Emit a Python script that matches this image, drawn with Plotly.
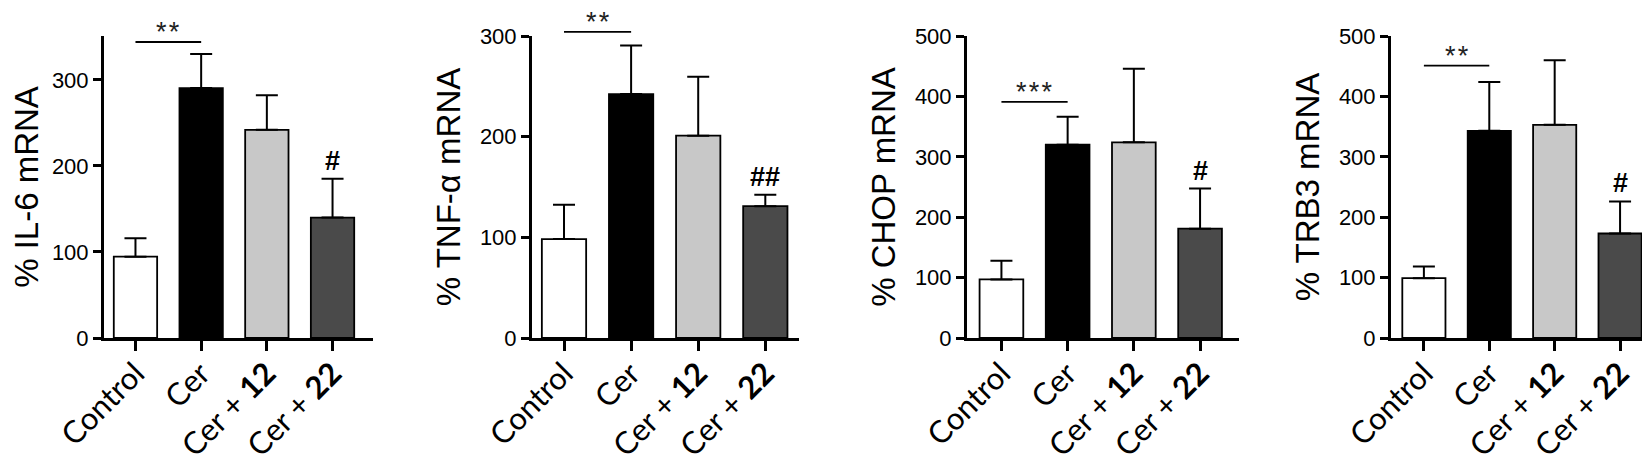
import plotly.graph_objects as go

categories = ["Control", "Cer", "Cer + <b>12</b>", "Cer + <b>22</b>"]
bar_colors = ["#ffffff", "#000000", "#c8c8c8", "#4a4a4a"]

titles = ["% IL-6 mRNA", "% TNF-α mRNA", "% CHOP mRNA", "% TRB3 mRNA"]

il6_mean = [94.5, 290.5, 242, 140]
il6_sem = [21.5, 39.5, 40, 45]
tnf_mean = [98.3, 242.3, 201, 131]
tnf_sem = [34, 48.3, 58.5, 11.3]
chop_mean = [97, 320, 324, 181]
chop_sem = [31, 46.5, 121.7, 66.5]
trb3_mean = [99, 343, 353, 173]
trb3_sem = [19.4, 81, 107, 53]

means = [il6_mean, tnf_mean, chop_mean, trb3_mean]
sems = [il6_sem, tnf_sem, chop_sem, trb3_sem]

sig_y = [344, 304, 391, 451]
sig_text = ["*\u200a*", "*\u200a*", "*\u200a*\u200a*", "*\u200a*"]
hash_text = ["#", "##", "#", "#"]

y_max = [351, 300, 500, 500]
y_dtick = [100, 100, 100, 100]

W, H = 1650, 469
# pixel layout of each panel
x_dom_px = [(96, 365), (524, 791), (959, 1231), (1383, 1650)]
x_ranges = [(-0.479, 3.616), (-0.477, 3.502), (-0.52, 3.588), (-0.503, 3.58)]
y_dom = ((H - 330) / H, (H - 28) / H)


def to_paper(i, v):
    # map a data value of panel i onto paper coordinates through its y scale
    return y_dom[0] + v / y_max[i] * (y_dom[1] - y_dom[0])


fig = go.Figure()
for i in range(4):
    xa = "x" if i == 0 else f"x{i+1}"
    ya = "y" if i == 0 else f"y{i+1}"
    fig.add_trace(go.Bar(
        x=categories, y=means[i], xaxis=xa, yaxis=ya,
        width=0.66,
        marker=dict(color=bar_colors, line=dict(color="black", width=1.8)),
        error_y=dict(type="data", symmetric=False, array=sems[i],
                     arrayminus=[0] * 4, color="black", thickness=2, width=11),
        showlegend=False, cliponaxis=False,
    ))
    yp = to_paper(i, sig_y[i])
    fig.add_shape(type="line", xref=xa, yref="paper",
                  x0=0, x1=1, y0=yp, y1=yp,
                  line=dict(color="black", width=1.8))
    fig.add_annotation(
        x=0.5, y=yp, xref=xa, yref="paper", text=sig_text[i],
        showarrow=False, yanchor="bottom", yshift=-7,
        font=dict(family="Liberation Sans, Arial", size=27, color="#222"),
    )
    fig.add_annotation(
        x=categories[3], y=to_paper(i, means[i][3] + sems[i][3]),
        xref=xa, yref="paper",
        text="<b>" + hash_text[i] + "</b>",
        showarrow=False, yanchor="bottom", yshift=1,
        font=dict(family="Liberation Sans, Arial", size=27, color="black"),
    )
    d0, d1 = x_dom_px[i]
    fig.update_layout(**{
        ("xaxis" if i == 0 else f"xaxis{i+1}"): dict(
            domain=[d0 / W, d1 / W], range=list(x_ranges[i]),
            anchor=ya, showline=True, linecolor="black", linewidth=3,
            ticks="outside", ticklen=10, tickwidth=3, tickcolor="black",
            tickangle=-45, showgrid=False, zeroline=False, automargin=False,
            ticklabelstandoff=-8,
            tickfont=dict(family="Lato, Carlito, Open Sans", size=31, color="black"),
        ),
        ("yaxis" if i == 0 else f"yaxis{i+1}"): dict(
            domain=list(y_dom), range=[0, y_max[i]], dtick=y_dtick[i],
            anchor=xa, showline=True, linecolor="black", linewidth=3,
            ticks="outside", ticklen=8, tickwidth=3, tickcolor="black",
            showgrid=False, zeroline=False, automargin=False,
            tickfont=dict(family="Liberation Sans, Arial", size=22, color="black"),
            title=dict(text=titles[i], standoff=10,
                       font=dict(family="Liberation Sans, Arial", size=33, color="black")),
        ),
    })

fig.update_layout(
    template="none",
    width=W, height=H,
    margin=dict(l=0, r=0, t=0, b=0),
    paper_bgcolor="white", plot_bgcolor="white",
)
fig.write_html("out.html")
